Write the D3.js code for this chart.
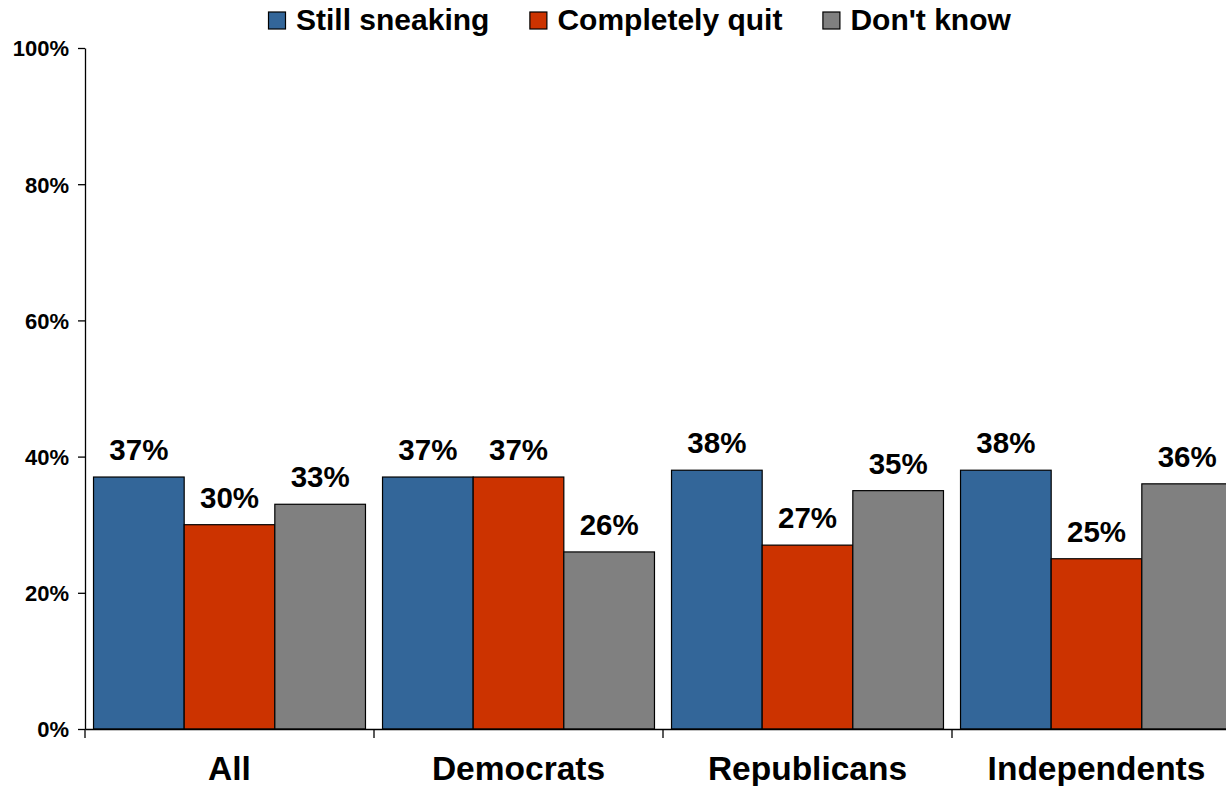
<!DOCTYPE html>
<html>
<head>
<meta charset="utf-8">
<script src="https://cdn.jsdelivr.net/npm/d3@7"></script>
<style>
  html, body { margin: 0; padding: 0; background: #fff; }
  svg { display: block; font-family: "Liberation Sans", Arial, sans-serif; font-weight: bold; }
</style>
</head>
<body>
<svg id="chart" width="1226" height="786"></svg>
<script>
const categories = ["All", "Democrats", "Republicans", "Independents"];
const seriesNames = ["Still sneaking", "Completely quit", "Don't know"];
const stillSneaking = [37, 37, 38, 38];
const completelyQuit = [30, 37, 27, 25];
const dontKnow = [33, 26, 35, 36];
const yTicks = [0, 20, 40, 60, 80, 100];
const colors = ["#336699", "#CC3300", "#808080"];

const seriesValues = [stillSneaking, completelyQuit, dontKnow];

const svg = d3.select("#chart");

const x0 = d3.scaleBand().domain(categories).range([85, 1241]).padding(0);
const bw = x0.bandwidth();
const x1 = d3.scaleBand().domain(seriesNames).range([bw * 0.0295, bw * 0.9705]).padding(0);
const y = d3.scaleLinear().domain([0, 100]).range([729, 48]);

// bars
const groups = svg.selectAll("g.grp").data(categories).enter().append("g")
  .attr("class", "grp")
  .attr("transform", d => `translate(${x0(d)},0)`);

groups.each(function(cat, ci) {
  const g = d3.select(this);
  seriesNames.forEach((s, si) => {
    const v = seriesValues[si][ci];
    g.append("rect")
      .attr("x", x1(s))
      .attr("y", y(v))
      .attr("width", x1.bandwidth())
      .attr("height", y(0) - y(v))
      .attr("fill", colors[si])
      .attr("stroke", "#000")
      .attr("stroke-width", 1.2);
    g.append("text")
      .attr("x", x1(s) + x1.bandwidth() / 2)
      .attr("y", y(v) - 17)
      .attr("text-anchor", "middle")
      .attr("font-size", 29.5)
      .attr("fill", "#000")
      .text(v + "%");
  });
});

// y axis
const yAxis = d3.axisLeft(y).tickValues(yTicks).tickSize(7).tickSizeOuter(0).tickFormat(d => d + "%");
const yg = svg.append("g").attr("transform", "translate(85,0)").call(yAxis);
yg.attr("font-size", null).attr("font-family", null);
yg.select(".domain").attr("stroke", "#000").attr("stroke-width", 1.3);
yg.selectAll(".tick line").attr("stroke", "#000").attr("stroke-width", 1.3);
yg.selectAll(".tick text")
  .attr("x", -16)
  .attr("dy", "0.36em")
  .attr("font-size", 22)
  .attr("font-weight", "bold")
  .attr("fill", "#000");

// x axis
const xAxis = d3.axisBottom(x0).tickSize(0).tickSizeOuter(0);
const xg = svg.append("g").attr("transform", "translate(0,729)").call(xAxis);
xg.attr("font-size", null).attr("font-family", null);
xg.select(".domain").attr("stroke", "#000").attr("stroke-width", 1.3);
xg.selectAll(".tick text")
  .attr("y", 51)
  .attr("dy", 0)
  .attr("font-size", 33.5)
  .attr("font-weight", "bold")
  .attr("fill", "#000");
// category separators
xg.selectAll("line.sep").data(categories).enter().append("line")
  .attr("class", "sep")
  .attr("x1", d => x0(d)).attr("x2", d => x0(d))
  .attr("y1", 0).attr("y2", 9)
  .attr("stroke", "#000").attr("stroke-width", 1.3);

// legend
const legend = svg.append("g").attr("transform", "translate(268,0)");
let lx = 0;
seriesNames.forEach((s, i) => {
  const item = legend.append("g").attr("transform", `translate(${lx},0)`);
  item.append("rect")
    .attr("x", 0.5).attr("y", 12)
    .attr("width", 17).attr("height", 17)
    .attr("fill", colors[i])
    .attr("stroke", "#000").attr("stroke-width", 1.2);
  const t = item.append("text")
    .attr("x", 28).attr("y", 30)
    .attr("font-size", 30)
    .attr("fill", "#000")
    .text(s);
  lx += 28 + t.node().getComputedTextLength() + 40;
});
</script>
</body>
</html>
